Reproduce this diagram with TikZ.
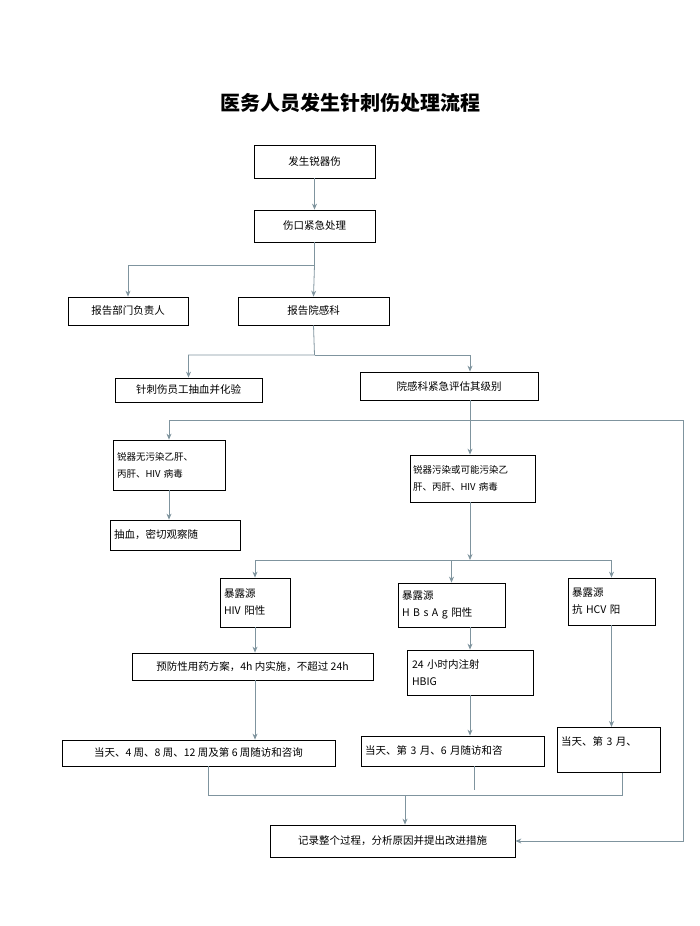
\documentclass[tikz,border=0pt]{standalone}
\usepackage{fontspec}
\setmainfont{Liberation Serif}
\newfontfamily\cjk{Noto Sans CJK SC}
\usetikzlibrary{arrows.meta}
\definecolor{linegray}{HTML}{7F949E}
\begin{document}
\begin{tikzpicture}[x=1pt,y=-1pt,
    box/.style={draw,thick,inner sep=0pt,font=\cjk\fontsize{10.5}{17}\selectfont},
    flow/.style={draw=linegray,thick,-{Stealth[length=6pt,width=5pt]}},
    link/.style={draw=linegray,thick}]

      \useasboundingbox (0,0) rectangle (700,926);
      \node (title) at (350,103) {\cjk\bfseries\fontsize{20}{23}\selectfont 医务人员发生针刺伤处理流程};

      \begin{scope}[every node/.style={box}]
        \node[minimum width=121,minimum height=33] (injury) at (314.5,161.5) {发生锐器伤};
        \node[minimum width=121,minimum height=32] (wound)  at (314.5,226)   {伤口紧急处理};
        \node[minimum width=120,minimum height=28] (head)   at (128,311)     {报告部门负责人};
        \node[minimum width=151,minimum height=28] (infect) at (313.5,311)   {报告院感科};
        \node[minimum width=147,minimum height=24] (blood)  at (188.5,390)   {针刺伤员工抽血并化验};
        \node[minimum width=178,minimum height=28] (assess) at (449,386)     {院感科紧急评估其级别};
        \node[minimum width=112,minimum height=50,text width=104,align=left,font=\cjk\fontsize{9.5}{17}\selectfont] (clean) at (169,465)
          {锐器无污染乙肝、\\丙肝、HIV 病毒};
        \node[minimum width=125,minimum height=47,text width=119,align=left,font=\cjk\fontsize{9.5}{17}\selectfont] (dirty) at (472.5,478.5)
          {锐器污染或可能污染乙\\肝、丙肝、HIV 病毒};
        \node[minimum width=130,minimum height=30,text width=122,align=left] (watch) at (175,535)
          {抽血，密切观察随};
        \node[minimum width=70,minimum height=49,text width=62,align=left] (hiv) at (255,602.5)
          {暴露源\\HIV 阳性};
        \node[minimum width=107,minimum height=44,text width=99,align=left] (hbv) at (451.5,605)
          {暴露源\\H B s A g 阳性};
        \node[minimum width=87,minimum height=47,text width=79,align=left] (hcv) at (611.5,601.5)
          {暴露源\\抗 HCV 阳};
        \node[minimum width=241,minimum height=27] (drug) at (252.5,666.5)
          {预防性用药方案，4h 内实施，不超过 24h};
        \node[minimum width=126,minimum height=45,text width=116,align=left] (hbig) at (470,672.5)
          {24 小时内注射\\HBIG};
        \node[minimum width=273,minimum height=26] (hivfu) at (198.5,753)
          {当天、4 周、8 周、12 周及第 6 周随访和咨询};
        \node[minimum width=183,minimum height=30,text width=175,align=left] (hbvfu) at (452.5,751)
          {当天、第 3 月、6 月随访和咨};
        \node[minimum width=103,minimum height=45,text width=95,align=left,anchor=north] (hcvfu) at (608.5,727)
          {当天、第 3 月、\\ \ };
        \node[minimum width=245,minimum height=32] (record) at (392.5,841)
          {记录整个过程，分析原因并提出改进措施};
      \end{scope}

      \begin{scope}
        \coordinate (s1) at (314.5,265);
        \coordinate (s2) at (314.5,355);
        \coordinate (s3) at (470,420);
        \coordinate (s4) at (470,560);
        \coordinate (s5) at (405,795);
        \coordinate (r1) at (683,420);

        \path[flow] (injury) -- (wound);
        \path[flow] (wound.south) -- (s1) -| (head.north);
        \path[flow] (s1) -- (infect.north);
        \path[flow] (infect.south) -- (s2) -| (blood.north);
        \path[flow] (s2) -| (s3 |- assess.north);
        \path[flow] (assess.south -| s3) -- (dirty.north -| s3);
        \path[flow] (s3) -| (clean.north);
        \path[flow] (s3) -- (r1) |- (record.east);
        \path[flow] (clean) -- (watch.north -| clean);
        \path[flow] (dirty.south -| s4) -- (s4);
        \path[flow] (s4) -| (hiv.north);
        \path[flow] (s4) -| (hbv.north);
        \path[flow] (s4) -| (hcv.north);
        \path[flow] (hiv) -- (drug.north -| hiv);
        \path[flow] (drug.south -| hiv) -- (hivfu.north -| hiv);
        \path[flow] (hbv.south -| hbig) -- (hbig.north);
        \path[flow] (hbig) -- (hbvfu.north -| hbig);
        \path[flow] (hcv) -- (hcvfu.north -| hcv);
        \path[link] (hivfu.south -| 208,0) |- (s5);
        \path[link] (hbvfu.south -| 474,0) -- (474,790);
        \path[link] (hcvfu.south -| 622,0) |- (s5);
        \path[flow] (s5) -- (record.north -| s5);
      \end{scope}

    \end{tikzpicture}
\end{document}
